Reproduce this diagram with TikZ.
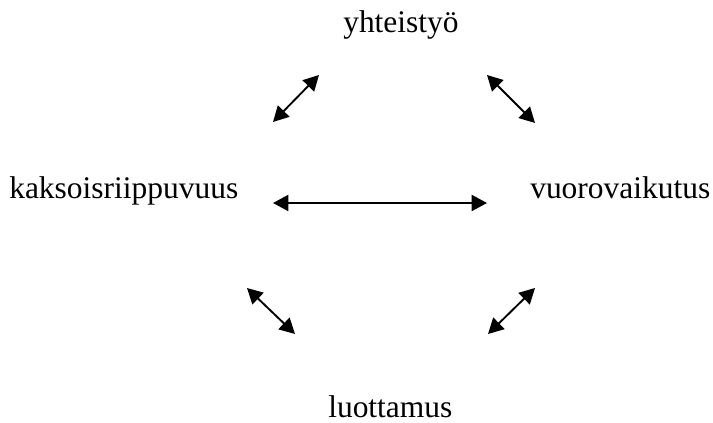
\documentclass[tikz,border=0pt]{standalone}
\usepackage{fontspec}
\setmainfont{Liberation Serif}
\usetikzlibrary{arrows.meta}
\tikzstyle{word}=[inner sep=0pt,anchor=base west,font=\fontsize{23.6}{28}\selectfont]
\tikzstyle{link}=[{Triangle[length=11.5pt,width=12pt]}-{Triangle[length=11.5pt,width=12pt]},line width=1.4pt]

\begin{document}
\begin{tikzpicture}[x=0.75pt,y=-0.75pt]
	\useasboundingbox (0,0) rectangle (713,423);
	% the four words
	\node[word] (yht) at (343,33) {yhteistyö};
	\node[word] (kak) at (9,199) {kaksoisriippuvuus};
	\node[word] (vuo) at (530,199) {vuorovaikutus};
	\node[word] (luo) at (328,417) {luottamus};
	% arrow ends
	\coordinate (tl1) at (273,122); \coordinate (tl2) at (319,75);
	\coordinate (tr1) at (487,75);  \coordinate (tr2) at (535,123);
	\coordinate (mid1) at (273,203); \coordinate (mid2) at (487,203);
	\coordinate (bl1) at (247,288); \coordinate (bl2) at (295,334);
	\coordinate (br1) at (488,334); \coordinate (br2) at (535,288);
	\foreach \a in {tl,tr,mid,bl,br} {
		\draw[link] (\a1) -- (\a2);
	}
\end{tikzpicture}
\end{document}
